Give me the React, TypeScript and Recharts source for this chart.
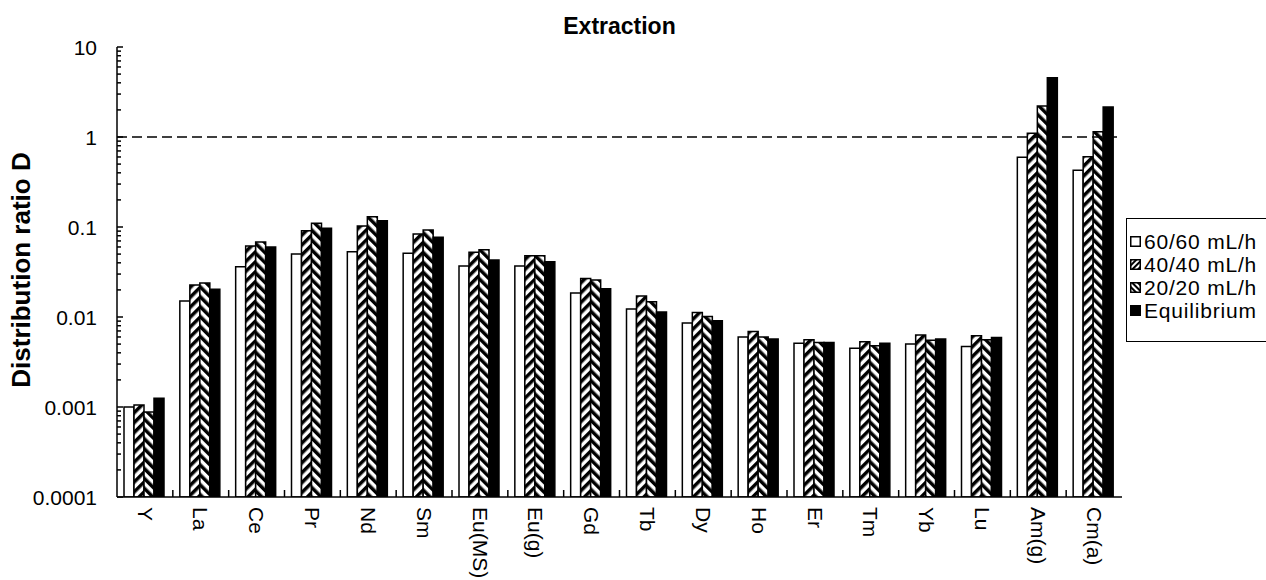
import React from "react";
import { BarChart, Bar, XAxis, YAxis, ReferenceLine } from "recharts";

const categories = ["Y", "La", "Ce", "Pr", "Nd", "Sm", "Eu(MS)", "Eu(g)", "Gd", "Tb", "Dy", "Ho", "Er", "Tm", "Yb", "Lu", "Am(g)", "Cm(a)"];

const flow60 = [0.001, 0.0151, 0.0362, 0.05, 0.053, 0.051, 0.0369, 0.0369, 0.0185, 0.0123, 0.0086, 0.006, 0.0051, 0.0045, 0.005, 0.0047, 0.595, 0.427];
const flow40 = [0.00105, 0.0227, 0.0615, 0.091, 0.1026, 0.0836, 0.0523, 0.048, 0.0267, 0.0171, 0.0112, 0.0069, 0.0056, 0.0053, 0.0063, 0.0062, 1.1, 0.604];
const flow20 = [0.00088, 0.0239, 0.068, 0.11, 0.13, 0.0926, 0.056, 0.048, 0.0258, 0.0148, 0.0101, 0.006, 0.0052, 0.0048, 0.0055, 0.0056, 2.21, 1.146];
const equilibrium = [0.00125, 0.0203, 0.06, 0.0967, 0.117, 0.0768, 0.043, 0.0412, 0.0206, 0.0114, 0.0091, 0.0057, 0.0052, 0.0051, 0.0057, 0.0059, 4.56, 2.15];

const yMajorTicks = [0.0001, 0.001, 0.01, 0.1, 1, 10];
const yTickLabels = ["0.0001", "0.001", "0.01", "0.1", "1", "10"];

const seriesNames = ["60/60 mL/h", "40/40 mL/h", "20/20 mL/h", "Equilibrium"];
const seriesFills = ["#fff", "url(#hatchUp)", "url(#hatchDown)", "#000"];

const data = categories.map((name, i) => ({
  name,
  f60: flow60[i],
  f40: flow40[i],
  f20: flow20[i],
  eq: equilibrium[i],
}));

// minor ticks 2..9 in each decade
const yMinorTicks: number[] = [];
yMajorTicks.slice(0, -1).forEach((d) => {
  for (let k = 2; k <= 9; k++) yMinorTicks.push(d * k);
});
const yTicks = [...yMajorTicks, ...yMinorTicks];

const FONT = "'Liberation Sans', Arial, sans-serif";
const W = 1266;
const H = 580;
const PLOT_LEFT = 117;
const PLOT_RIGHT = 1122;
const PLOT_TOP = 47;
const PLOT_BOTTOM = 497;
const BAND = (PLOT_RIGHT - PLOT_LEFT) / categories.length;

const YTick = (props: any) => {
  const { x, y, payload } = props;
  const idx = yMajorTicks.findIndex((t) => Math.abs(t - payload.value) < t * 1e-6);
  const major = idx >= 0;
  return (
    <g>
      <line x1={x} x2={x + (major ? 6 : 4)} y1={y} y2={y} stroke="#000" strokeWidth={1.5} />
      {major && (
        <text x={x - 20} y={y} textAnchor="end" dominantBaseline="central" fontSize={21} fontFamily={FONT} fill="#000">
          {yTickLabels[idx]}
        </text>
      )}
    </g>
  );
};

const XTick = (props: any) => {
  const { x, y, payload, index } = props;
  return (
    <g>
      {index < categories.length - 1 && (
        <line x1={x + BAND / 2} x2={x + BAND / 2} y1={y} y2={y - 7} stroke="#000" strokeWidth={1.5} />
      )}
      <text
        transform={`translate(${x}, ${y + 10}) rotate(90)`}
        dy="0.35em"
        textAnchor="start"
        fontSize={21}
        fontFamily={FONT}
        fill="#000"
      >
        {payload.value}
      </text>
    </g>
  );
};

const YLabel = (props: any) => {
  const vb = props.viewBox || { x: 0, y: PLOT_TOP, height: PLOT_BOTTOM - PLOT_TOP };
  const cx = 21;
  const cy = vb.y + vb.height / 2 - 2;
  return (
    <text
      x={cx}
      y={cy}
      transform={`rotate(-90 ${cx} ${cy})`}
      textAnchor="middle"
      dominantBaseline="central"
      fontSize={26}
      fontWeight="bold"
      fontFamily={FONT}
      fill="#000"
    >
      Distribution ratio D
    </text>
  );
};

const Swatch = ({ i }: { i: number }) => (
  <svg width={11} height={11} style={{ marginRight: 3, flexShrink: 0 }}>
    <defs>
      <pattern id={`lg${i}`} width={4} height={4} patternUnits="userSpaceOnUse" patternTransform={`rotate(${i === 1 ? 45 : -45})`}>
        <rect width={4} height={4} fill="#fff" />
        <rect width={2} height={4} fill="#000" />
      </pattern>
    </defs>
    <rect x={0.75} y={0.75} width={9.5} height={9.5} fill={i === 0 ? "#fff" : i === 3 ? "#000" : `url(#lg${i})`} stroke="#000" strokeWidth={1.5} />
  </svg>
);

const App: React.FC = () => {
  return (
    <div style={{ position: "absolute", left: 0, top: 0, width: W, height: H, overflow: "hidden", background: "#fff", fontFamily: FONT }}>
      <div
        style={{
          position: "absolute",
          left: PLOT_LEFT,
          width: PLOT_RIGHT - PLOT_LEFT,
          top: 12,
          lineHeight: "28px",
          textAlign: "center",
          fontSize: 23,
          fontWeight: "bold",
          color: "#000",
        }}
      >
        Extraction
      </div>
      <BarChart
        width={W}
        height={H}
        data={data}
        margin={{ top: PLOT_TOP, right: W - PLOT_RIGHT, left: 0, bottom: 0 }}
        barCategoryGap={7}
        barGap={0}
      >
        <defs>
          <pattern id="hatchUp" width={7} height={7} patternUnits="userSpaceOnUse" patternTransform="rotate(45)">
            <rect width={7} height={7} fill="#fff" />
            <rect width={3.5} height={7} fill="#000" />
          </pattern>
          <pattern id="hatchDown" width={7} height={7} patternUnits="userSpaceOnUse" patternTransform="rotate(-45)">
            <rect width={7} height={7} fill="#fff" />
            <rect width={3.5} height={7} fill="#000" />
          </pattern>
        </defs>
        <XAxis
          dataKey="name"
          height={H - PLOT_BOTTOM}
          interval={0}
          tickLine={false}
          tickSize={0}
          tickMargin={0}
          tick={<XTick />}
          axisLine={{ stroke: "#000", strokeWidth: 1.5 }}
        />
        <XAxis xAxisId="top" dataKey="name" orientation="top" height={0} tick={false} tickLine={false} axisLine={{ stroke: "#000", strokeWidth: 1.5 }} />
        <YAxis
          type="number"
          scale="log"
          domain={[0.0001, 10]}
          allowDataOverflow
          ticks={yTicks}
          interval={0}
          width={PLOT_LEFT}
          tickLine={false}
          tickSize={0}
          tickMargin={0}
          tick={<YTick />}
          axisLine={{ stroke: "#000", strokeWidth: 1.5 }}
          label={<YLabel />}
        />
        <YAxis yAxisId="right" orientation="right" type="number" domain={[0, 1]} width={0} tick={false} tickLine={false} axisLine={{ stroke: "#000", strokeWidth: 1.5 }} />
        <ReferenceLine y={1} stroke="#000" strokeWidth={1.5} strokeDasharray="10 5" />
        <Bar dataKey="f60" name={seriesNames[0]} fill={seriesFills[0]} stroke="#000" strokeWidth={1.5} isAnimationActive={false} />
        <Bar dataKey="f40" name={seriesNames[1]} fill={seriesFills[1]} stroke="#000" strokeWidth={1.5} isAnimationActive={false} />
        <Bar dataKey="f20" name={seriesNames[2]} fill={seriesFills[2]} stroke="#000" strokeWidth={1.5} isAnimationActive={false} />
        <Bar dataKey="eq" name={seriesNames[3]} fill={seriesFills[3]} stroke="#000" strokeWidth={1.5} isAnimationActive={false} />
      </BarChart>
      <div
        style={{
          position: "absolute",
          left: 1126,
          top: 218,
          width: 160,
          height: 124,
          boxSizing: "border-box",
          border: "1.5px solid #000",
          background: "#fff",
          paddingTop: 11,
        }}
      >
        {seriesNames.map((n, i) => (
          <div key={n} style={{ display: "flex", alignItems: "center", height: 23, paddingLeft: 3, fontSize: 21, lineHeight: "23px", letterSpacing: 0.8, color: "#000", whiteSpace: "nowrap" }}>
            <Swatch i={i} />
            <span>{n}</span>
          </div>
        ))}
      </div>
    </div>
  );
};

export default App;
